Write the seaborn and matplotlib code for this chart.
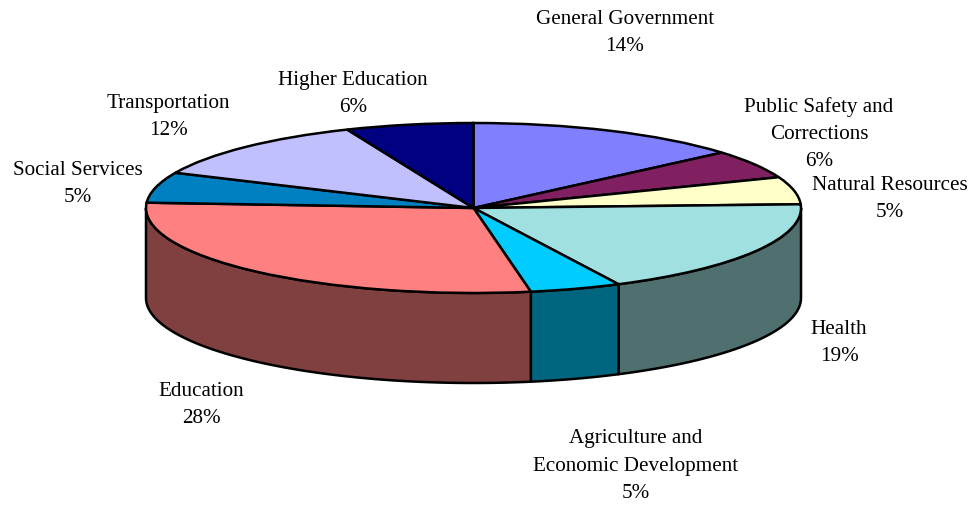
import numpy as np
import seaborn as sns
import matplotlib.pyplot as plt
from matplotlib.transforms import Affine2D

sns.set_style("white")
plt.rcParams['font.family'] = ['Liberation Serif', 'DejaVu Serif']

categories = ['General Government', 'Public Safety and\nCorrections', 'Natural Resources',
              'Health', 'Agriculture and\nEconomic Development', 'Education',
              'Social Services', 'Transportation', 'Higher Education']
shares = [13.7, 5.4, 5.2, 18.4, 4.5, 28.8, 5.8, 11.9, 6.3]
percent_labels = ['14%', '6%', '5%', '19%', '5%', '28%', '5%', '12%', '6%']
top_colors = ['#8080FF', '#802060', '#FFFFC8', '#A0E0E0', '#00CCFF',
              '#FF8080', '#0080C0', '#C0C0FF', '#000080']

W, H = 971, 505
cx, cy = 473.5, H - 208
rx, ry = 327.5, 85
depth = 90
lw = 1.8

fig = plt.figure(figsize=(W / 100, H / 100), dpi=100)
ax = fig.add_axes([0, 0, 1, 1])

# walls first, only the front half of the ellipse can be seen
edges = np.cumsum([0] + shares) / sum(shares) * 360
for i, col in enumerate(top_colors):
    a0, a1 = max(edges[i], 90), min(edges[i + 1], 270)
    if a1 <= a0:
        continue
    t = np.radians(np.linspace(a0, a1, 80))
    xs = cx + rx * np.sin(t)
    ys = cy + ry * np.cos(t)
    side = tuple(c * 0.5 for c in sns.desaturate(col, 1.0))
    ax.fill(np.r_[xs, xs[::-1]], np.r_[ys, ys[::-1] - depth],
            facecolor=side, edgecolor='black', linewidth=lw, joinstyle='round', zorder=1)

# top face is a normal pie squashed to an ellipse
wedges, _ = ax.pie(shares, colors=top_colors, startangle=90, counterclock=False,
                   center=(cx, cy), radius=rx,
                   wedgeprops=dict(edgecolor='black', linewidth=lw))
squash = Affine2D().translate(-cx, -cy).scale(1, ry / rx).translate(cx, cy) + ax.transData
for w in wedges:
    w.set_transform(squash)
    w.set_zorder(2)

ax.set_aspect('auto')
ax.set_xlim(0, W)
ax.set_ylim(0, H)
ax.axis('off')

label_x = [625, 819, 890, 839, 636, 201, 78, 168, 353]
label_y = [33, 134, 199, 343, 466, 405, 184, 117, 94]
for name, pct, x, y in zip(categories, percent_labels, label_x, label_y):
    ax.text(x, H - y, name + '\n' + pct, ha='center', va='center', multialignment='center',
            fontsize=15.2, color='black', linespacing=1.6, zorder=3)

plt.savefig('out.png', dpi=100)
